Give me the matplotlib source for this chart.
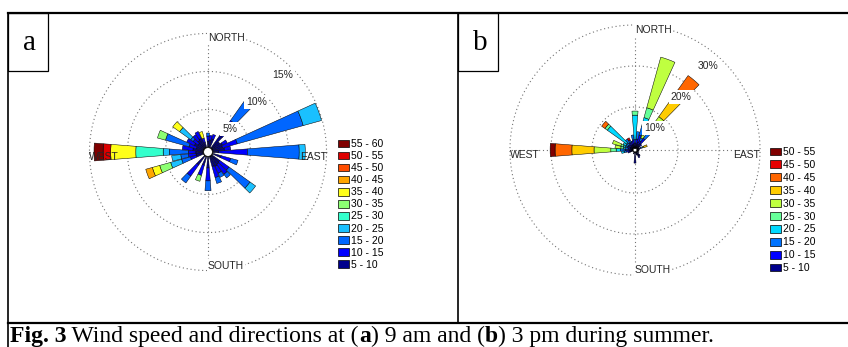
import numpy as np
import matplotlib.pyplot as plt
from matplotlib.lines import Line2D
from matplotlib.patches import Rectangle, Patch

W, H = 848, 347

# speed bins (legend labels), low to high
bins_a = ['5 - 10', '10 - 15', '15 - 20', '20 - 25', '25 - 30', '30 - 35',
          '35 - 40', '40 - 45', '45 - 50', '50 - 55', '55 - 60']
bins_b = ['5 - 10', '10 - 15', '15 - 20', '20 - 25', '25 - 30', '30 - 35',
          '35 - 40', '40 - 45', '45 - 50', '50 - 55']

# (a) 9 am: direction (deg from north) and % frequency per speed bin
dirs_a = [0, 10, 20, 40, 50, 60, 70, 80, 90, 110, 130, 140, 150, 160,
          180, 200, 220, 250, 260, 270, 280, 290, 300, 310, 320, 330, 340]
freq_a = [
    [0.8, 0.7, 0.4],
    [1.0, 0.6],
    [1.2, 0.6],
    [2.1, 2.4, 3.1, 0.4],
    [1.3],
    [1.5, 0.7],
    [1.4, 2.0, 9.0, 2.5],
    [1.6, 0.8],
    [0.8, 3.8, 6.8, 0.8],
    [1.2, 1.3, 1.0],
    [1.3, 1.5, 3.4, 0.9],
    [1.4, 1.6, 0.6],
    [1.5, 1.0, 0.6],
    [1.4, 1.5, 0.8],
    [1.5, 1.7, 1.3],
    [1.2, 1.4, 0, 0, 0, 0.8],
    [1.5, 1.8, 1.1],
    [1.0, 0.8, 1.2, 1.5, 0, 1.5, 1.0, 0.9],
    [1.0, 1.0, 1.0, 1.2],
    [1.0, 1.0, 2.5, 0.8, 3.6, 0, 3.3, 0, 0, 1.0, 1.2],
    [1.4, 1.4],
    [1.0, 1.0, 3.2, 0, 0, 1.1],
    [1.4, 1.1],
    [1.0, 0.8, 0.4, 1.8, 0, 0, 1.1],
    [1.3, 0.9],
    [1.4, 1.0],
    [0.7, 0.6, 0, 0, 0, 0, 0.9],
]
rings_a = [5, 10, 15]

# (b) 3 pm
dirs_b = [0, 10, 20, 30, 40, 50, 60, 70, 80, 100, 120, 140, 150, 160, 180, 200,
          250, 260, 270, 280, 290, 300, 310, 320, 330, 340, 350]
freq_b = [
    [0.6, 0.6, 0.8, 6.0, 1.0],
    [1.0, 1.2, 1.8],
    [1.5, 1.8, 2.2, 2.2, 2.5, 12.8],
    [1.0, 1.0, 0.8, 0, 0, 0.8],
    [1.5, 1.5, 2.0, 2.0, 1.0, 1.5, 8.0, 4.3],
    [0.8, 0.7],
    [0.6],
    [0.5, 0.5, 0.4, 0, 0, 0.4, 0.8],
    [0.6],
    [0.5],
    [0.6],
    [1.0, 0.3],
    [1.2, 0.4],
    [0.8],
    [2.7],
    [0.5],
    [0.8, 0.5],
    [0.8, 0.8, 0.6, 0.6],
    [0.9, 1.0, 1.2, 1.0, 1.3, 4.1, 5.4, 4.1, 0, 1.2],
    [0.6, 0.6, 0.6, 0.6, 0.6, 1.4],
    [0.7, 0.7, 0.6, 0.5, 0.6, 2.1],
    [0.8, 0.6, 0.5, 0.8],
    [0.6, 0.6, 0.8, 5.8, 0.7, 0, 0, 1.0],
    [0.8, 0.8, 1.2],
    [0.8, 0.8, 0.6, 0, 0, 0, 0, 0, 0.6],
    [1.0, 0.8],
    [1.0, 1.0, 1.2],
]
rings_b = [10, 20, 30]

caption_parts = [('Fig. 3', 'bold'), (' Wind speed and directions at (', 'normal'),
                 ('a', 'bold'), (') 9 am and (', 'normal'), ('b', 'bold'),
                 (') 3 pm during summer.', 'normal')]

# legend colours, low to high
colors_a = ['#00008c', '#0000ff', '#0066ff', '#1ac0ff', '#33ffcc', '#8cff73',
            '#ffff1a', '#ffa600', '#ff4d00', '#dd0000', '#800000']
colors_b = ['#00008c', '#0000ff', '#0073ff', '#00d9ff', '#66ff99', '#bfff40',
            '#ffcc00', '#ff6600', '#e60000', '#800000']

SMALL = dict(family='Liberation Sans', fontsize=7.5, color='0.15')


def wind_rose(fig, cx, cy, k, r0, rmax, dirs, freq, bins, colors, rings,
              lab_ang, lab_off, leg_xy, leg_sp):
    # k = pixels per percent, r0 = radial origin (centre hole)
    R = k * (rmax - r0)
    ax = fig.add_axes([(cx - R) / W, (H - cy - R) / H, 2 * R / W, 2 * R / H], projection='polar')
    ax.set_theta_zero_location('N')
    ax.set_theta_direction(-1)
    ax.set_ylim(0, rmax)
    ax.set_rorigin(r0)
    ax.grid(False)
    ax.set_xticks([])
    ax.set_yticks([])
    ax.spines['polar'].set_visible(False)
    ax.patch.set_visible(False)

    dot = dict(color='0.45', lw=0.8, ls=(0, (1, 2.5)), zorder=1)
    th = np.linspace(0, 2 * np.pi, 361)
    for p in rings:
        ax.plot(th, np.full_like(th, p), **dot)
    for t in [0, np.pi / 2, np.pi, 3 * np.pi / 2]:
        ax.plot([t, t], [0, rings[-1]], **dot)

    n = len(bins)
    table = np.array([row + [0] * (n - len(row)) for row in freq], dtype=float)
    theta = np.deg2rad(dirs)
    bottom = np.zeros(len(dirs))
    for j in range(n):
        v = table[:, j]
        m = v > 0
        if m.any():
            ax.bar(theta[m], v[m], width=np.deg2rad(9), bottom=bottom[m],
                   color=colors[j], edgecolor='black', lw=0.35, zorder=2)
        bottom += v
    ax.fill(th, np.zeros_like(th), fc='white', ec='black', lw=0.8, zorder=3)

    box = dict(fc='white', ec='none', pad=1.5)
    for p in rings:
        ax.text(np.deg2rad(lab_ang), p - lab_off, f'{p}%', ha='center', va='center',
                bbox=box, zorder=5, **SMALL)
    ro = rings[-1]
    box2 = dict(fc='white', ec='none', pad=0.8)
    ax.text(0, ro, 'NORTH', ha='left', va='top', bbox=box2, zorder=5, **SMALL)
    ax.text(np.pi, ro, 'SOUTH', ha='left', va='bottom', bbox=box2, zorder=5, **SMALL)
    ax.text(3 * np.pi / 2, ro, 'WEST', ha='left', va='top', zorder=5, **SMALL)
    ax.text(np.pi / 2, ro, 'EAST', ha='right', va='top', zorder=5, **SMALL)

    handles = [Patch(fc=colors[j], ec='black', lw=0.5) for j in range(n)][::-1]
    ax.legend(handles, bins[::-1], loc='upper left',
              bbox_to_anchor=(leg_xy[0] / W, 1 - leg_xy[1] / H), bbox_transform=fig.transFigure,
              frameon=False, prop=dict(family='Liberation Sans', size=7.5),
              handlelength=1.1, handleheight=0.75, handletextpad=0.15,
              labelspacing=leg_sp, borderpad=0, borderaxespad=0)
    return ax


fig = plt.figure(figsize=(W / 100, H / 100), dpi=100)

wind_rose(fig, 208, 152, 7.6, -0.6, 16, dirs_a, freq_a, bins_a, colors_a, rings_a,
          44, 1.45, (338, 139), 0.2)
wind_rose(fig, 635, 150, 4.1, -0.5, 31, dirs_b, freq_b, bins_b, colors_b, rings_b,
          41, 3.3, (770, 147), 0.28)


def hline(y, x0, x1, lw):
    fig.add_artist(Line2D([x0 / W, x1 / W], [1 - y / H, 1 - y / H], color='black', lw=lw))


def vline(x, y0, y1, lw):
    fig.add_artist(Line2D([x / W, x / W], [1 - y0 / H, 1 - y1 / H], color='black', lw=lw))


# table frame
hline(13, 7.5, 848, 1.6)
hline(323, 7.5, 848, 1.6)
vline(8, 12.5, 347, 1.2)
vline(457.5, 12.5, 323, 1.2)

# panel labels
for x0, lab in [(8, 'a'), (458, 'b')]:
    fig.add_artist(Rectangle((x0 / W, 1 - 71 / H), 39.5 / W, 58 / H, transform=fig.transFigure,
                             fill=False, ec='black', lw=0.9))
    fig.text((x0 + 22) / W, 1 - 50.5 / H, lab, ha='center', va='baseline',
             family='Liberation Serif', fontsize=21)

# caption, drawn piece by piece for the bold parts
renderer = fig.canvas.get_renderer()
x = 10
for s, w in caption_parts:
    t = fig.text(x / W, 1 - 342 / H, s, ha='left', va='baseline',
                 family='Liberation Serif', fontsize=17, weight=w)
    x += t.get_window_extent(renderer=renderer).width

fig.savefig('out.png', dpi=100)
